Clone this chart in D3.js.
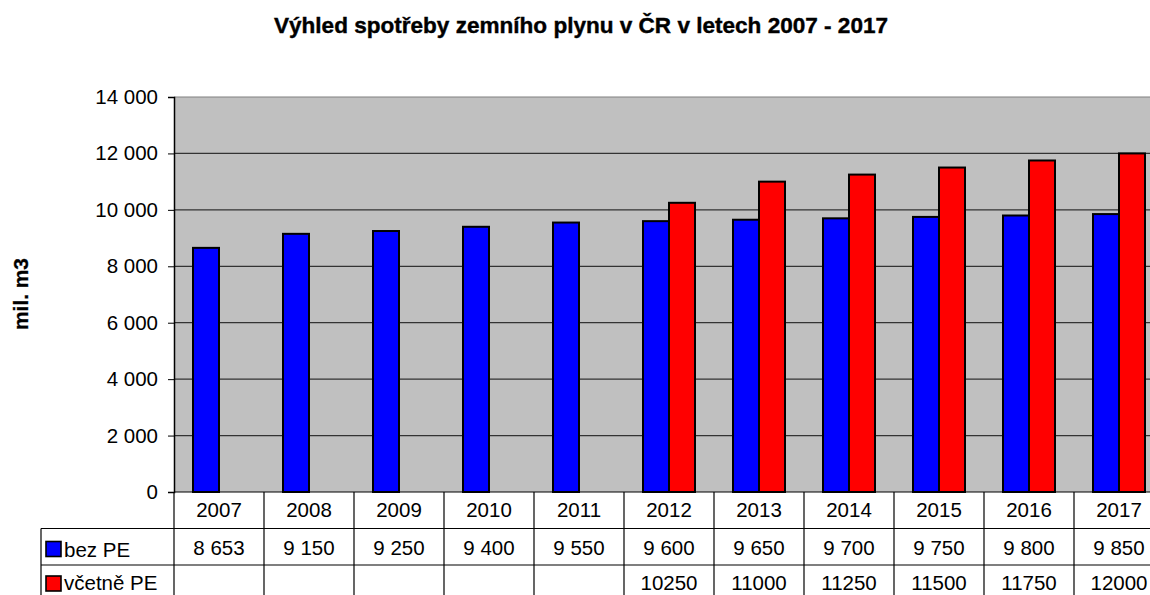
<!DOCTYPE html>
<html>
<head>
<meta charset="utf-8">
<script src="https://cdn.jsdelivr.net/npm/d3@7"></script>
<style>
  body { margin: 0; background: white; }
  svg { display: block; font-family: "Liberation Sans", Arial, sans-serif; }
</style>
</head>
<body>
<script>
const years = ['2007', '2008', '2009', '2010', '2011', '2012', '2013', '2014', '2015', '2016', '2017'];
const bezPE = [8653, 9150, 9250, 9400, 9550, 9600, 9650, 9700, 9750, 9800, 9850];
const vcetnePE = [null, null, null, null, null, 10250, 11000, 11250, 11500, 11750, 12000];
const seriesNames = ['bez PE', 'včetně PE'];
const seriesColors = ['#0000ff', '#ff0000'];
const yTicks = [0, 2000, 4000, 6000, 8000, 10000, 12000, 14000];

const width = 1150;
const height = 595;
const plot = { left: 174, top: 97, bottom: 492, band: 90 };
const rowH = 36.5;
const tableLeft = 41;
const fs = 20.5;

const svg = d3.select('body').append('svg')
  .attr('width', width)
  .attr('height', height);

const x = d3.scaleBand()
  .domain(years)
  .range([plot.left, plot.left + plot.band * years.length]);

const x1 = d3.scaleBand()
  .domain(seriesNames)
  .range([19, 71]);

const y = d3.scaleLinear()
  .domain([0, 14000])
  .range([plot.bottom, plot.top]);

const fmtSpace = (v) => d3.format(',')(v).replace(/,/g, ' ');

// plot background
svg.append('rect')
  .attr('x', plot.left)
  .attr('y', plot.top)
  .attr('width', width - plot.left)
  .attr('height', plot.bottom - plot.top)
  .attr('fill', '#c0c0c0');

// grid lines
svg.selectAll('line.grid')
  .data(yTicks.slice(1))
  .enter()
  .append('line')
  .attr('class', 'grid')
  .attr('x1', plot.left)
  .attr('x2', width)
  .attr('y1', (d) => y(d))
  .attr('y2', (d) => y(d))
  .attr('stroke', (d) => (d === 14000 ? '#808080' : '#333'))
  .attr('stroke-width', 1.2);

// bars
const data = [bezPE, vcetnePE];
data.forEach((vals, si) => {
  svg.append('g')
    .selectAll('rect')
    .data(years.map((yr, i) => ({ yr, v: vals[i] })).filter((d) => d.v != null))
    .enter()
    .append('rect')
    .attr('x', (d) => x(d.yr) + x1(seriesNames[si]))
    .attr('y', (d) => y(d.v))
    .attr('width', x1.bandwidth())
    .attr('height', (d) => plot.bottom - y(d.v))
    .attr('fill', seriesColors[si])
    .attr('stroke', '#000')
    .attr('stroke-width', 2);
});

// Y axis
const yAxis = svg.append('g')
  .attr('transform', `translate(${plot.left},0)`)
  .call(d3.axisLeft(y).tickValues(yTicks).tickSize(6).tickPadding(10).tickFormat(fmtSpace));
yAxis.select('.domain').attr('stroke', '#000').attr('stroke-width', 1.5);
yAxis.selectAll('.tick line').attr('stroke', '#000');
yAxis.selectAll('text')
  .attr('font-size', fs)
  .attr('font-family', '"Liberation Sans", Arial, sans-serif')
  .attr('fill', '#000');

// data table
const table = svg.append('g');
const tableRight = plot.left + plot.band * years.length;

// horizontal lines
[plot.bottom, plot.bottom + rowH, plot.bottom + 2 * rowH].forEach((yy, i) => {
  table.append('line')
    .attr('x1', i === 0 ? plot.left : tableLeft)
    .attr('x2', tableRight)
    .attr('y1', yy).attr('y2', yy)
    .attr('stroke', '#000').attr('stroke-width', 1.2);
});

// vertical lines
years.forEach((yr) => {
  table.append('line')
    .attr('x1', x(yr)).attr('x2', x(yr))
    .attr('y1', plot.bottom).attr('y2', height)
    .attr('stroke', '#000').attr('stroke-width', 1.2);
});
table.append('line')
  .attr('x1', tableLeft).attr('x2', tableLeft)
  .attr('y1', plot.bottom + rowH).attr('y2', height)
  .attr('stroke', '#000').attr('stroke-width', 1.2);

// year labels
table.selectAll('text.year')
  .data(years)
  .enter()
  .append('text')
  .attr('x', (d) => x(d) + plot.band / 2)
  .attr('y', plot.bottom + 25)
  .attr('text-anchor', 'middle')
  .attr('font-size', fs)
  .text((d) => d);

// series rows (last row is cut by the page edge, keep its label just inside)
data.forEach((vals, si) => {
  const rowY = plot.bottom + rowH * (si + 1);
  table.append('rect')
    .attr('x', tableLeft + 5)
    .attr('y', rowY + 13 - si * 2)
    .attr('width', 15)
    .attr('height', 15)
    .attr('fill', seriesColors[si])
    .attr('stroke', '#000')
    .attr('stroke-width', 1.6);
  table.append('text')
    .attr('x', tableLeft + 23)
    .attr('y', rowY + 28 - si * 3.5)
    .attr('font-size', fs)
    .text(seriesNames[si]);
  table.selectAll(null)
    .data(years.map((yr, i) => ({ yr, v: vals[i] })).filter((d) => d.v != null))
    .enter()
    .append('text')
    .attr('x', (d) => x(d.yr) + plot.band / 2)
    .attr('y', rowY + 26 - si * 1.5)
    .attr('text-anchor', 'middle')
    .attr('font-size', fs)
    .text((d) => (si === 0 ? fmtSpace(d.v) : String(d.v)));
});

// title
svg.append('text')
  .attr('x', 581)
  .attr('y', 33)
  .attr('text-anchor', 'middle')
  .attr('font-size', 22)
  .attr('font-weight', 'bold')
  .attr('stroke', '#000')
  .attr('stroke-width', 0.4)
  .attr('textLength', 614)
  .attr('lengthAdjust', 'spacingAndGlyphs')
  .text('Výhled spotřeby zemního plynu v ČR v letech 2007 - 2017');

// y axis title
svg.append('text')
  .attr('transform', `translate(28,294) rotate(-90)`)
  .attr('text-anchor', 'middle')
  .attr('font-size', 20)
  .attr('font-weight', 'bold')
  .attr('stroke', '#000')
  .attr('stroke-width', 0.3)
  .attr('textLength', 72)
  .attr('lengthAdjust', 'spacingAndGlyphs')
  .text('mil. m3');
</script>
</body>
</html>
